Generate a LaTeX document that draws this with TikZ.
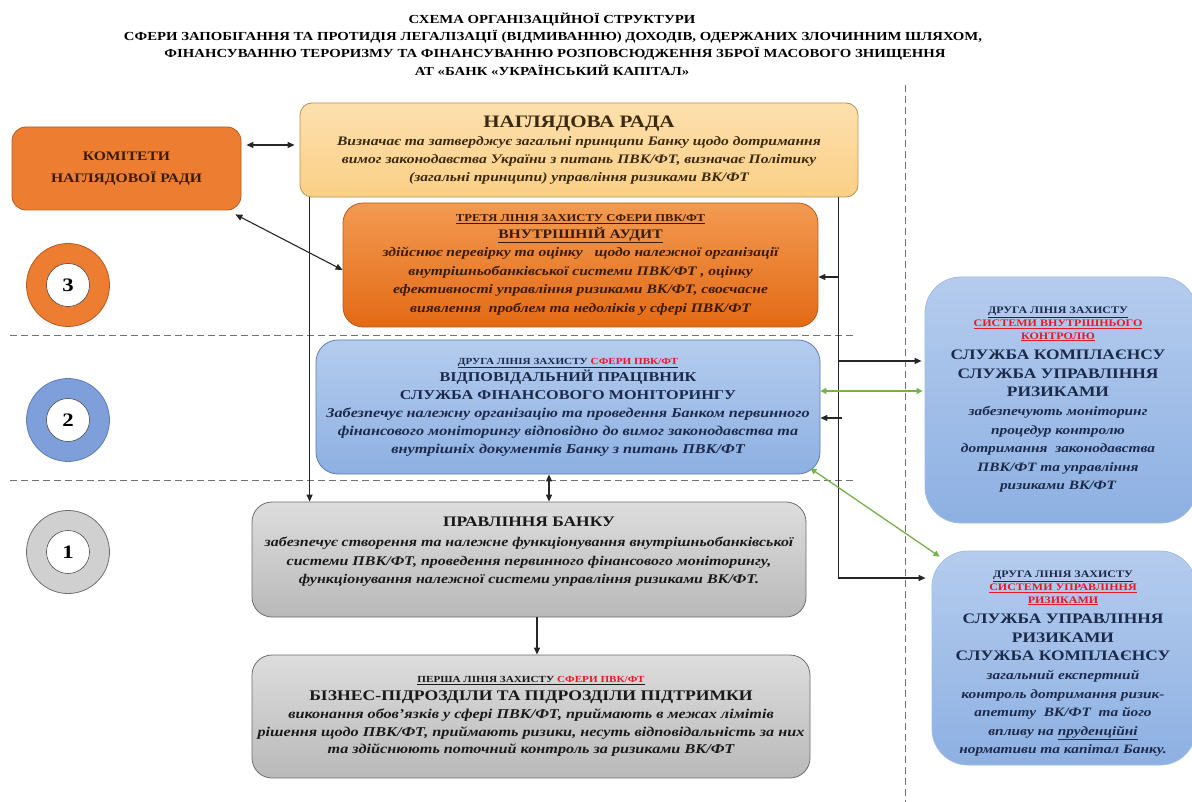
\documentclass[tikz,border=0pt]{standalone}
\usepackage{fontspec}
\setmainfont{Liberation Serif}[FakeStretch=1.2]
\usetikzlibrary{arrows.meta,calc}
\definecolor{radaF}{HTML}{FBCF86}
\definecolor{radaT}{HTML}{FDE0AE}
\definecolor{radaD}{HTML}{B8924E}
\definecolor{orF}{HTML}{ED7D31}
\definecolor{orD}{HTML}{B85A1C}
\definecolor{orT}{HTML}{F29A52}
\definecolor{orB}{HTML}{E36A14}
\definecolor{blT}{HTML}{B5CCEE}
\definecolor{blB}{HTML}{8DB0E2}
\definecolor{blD}{HTML}{5D7EAE}
\definecolor{grT}{HTML}{DDDDDD}
\definecolor{grB}{HTML}{B9B9B9}
\definecolor{grD}{HTML}{6E6E6E}
\definecolor{txtO}{HTML}{3A1B06}
\definecolor{txtR}{HTML}{3A2A10}
\definecolor{txtB}{HTML}{1B2A4A}
\definecolor{grn}{HTML}{78B04A}
\definecolor{redT}{HTML}{E8182A}
\definecolor{c2}{HTML}{7F9FDB}
\definecolor{c1}{HTML}{D0D0D0}
\begin{document}
\begin{tikzpicture}[x=1pt,y=-1pt,
  box/.style={draw, rounded corners=#1, align=center, line width=0.8pt, inner sep=0pt},
  arr/.style={line width=1.1pt, draw=black!85, -{Triangle[length=7pt,width=6pt]}},
  darr/.style={line width=1.1pt, draw=black!85, {Triangle[length=7pt,width=6pt]}-{Triangle[length=7pt,width=6pt]}},
  gline/.style={line width=1.3pt, draw=grn, {Triangle[length=6pt,width=6pt]}-{Triangle[length=6pt,width=6pt]}},
  sep/.style={dashed, draw=black!55, line width=0.9pt, dash pattern=on 7pt off 4pt},
  ring/.style={circle, draw=#1, line width=0.8pt, minimum size=83pt, inner sep=0pt},
  hole/.style={circle, draw=black!70, fill=white, line width=0.6pt, minimum size=43pt, inner sep=0pt, font=\fontsize{19}{22}\selectfont\bfseries},
  ttl/.style={font=\fontsize{12.3}{14}\selectfont\bfseries, inner sep=0pt},
  rtxt/.style={align=center, inner sep=0pt, text=txtB}
]
\useasboundingbox (0,0) rectangle (1192,802);
\fill[white] (0,0) rectangle (1192,802);
\clip (0,0) rectangle (1192,802);

% title
\node[ttl] (t1) at (552,20) {СХЕМА ОРГАНІЗАЦІЙНОЇ СТРУКТУРИ};
\node[ttl] (t2) at (553,37) {СФЕРИ  ЗАПОБІГАННЯ ТА ПРОТИДІЯ ЛЕГАЛІЗАЦІЇ (ВІДМИВАННЮ) ДОХОДІВ, ОДЕРЖАНИХ ЗЛОЧИННИМ ШЛЯХОМ,};
\node[ttl] (t3) at (555,54) {ФІНАНСУВАННЮ ТЕРОРИЗМУ ТА ФІНАНСУВАННЮ РОЗПОВСЮДЖЕННЯ ЗБРОЇ МАСОВОГО ЗНИЩЕННЯ};
\node[ttl] (t4) at (552,70) {АТ «БАНК «УКРАЇНСЬКИЙ КАПІТАЛ»};

% separators
\draw[sep] (10,335) -- (855,335);
\draw[sep] (10,480) -- (855,480);
\draw[sep] (905,85) -- (905,802);

% circles
\node[ring=orD, fill=orF] (c3o) at (68,285) {};
\node[hole] (c3) at (c3o.center) {3};
\node[ring=blD, fill=c2] (c2o) at (68,420) {};
\node[hole] (c2) at (c2o.center) {2};
\node[ring=grD, fill=c1] (c1o) at (68,552) {};
\node[hole] (c1) at (c1o.center) {1};

% boxes
\node[box=14pt, draw=orD, fill=orF, text=txtO, minimum width=229pt, minimum height=83pt,
      font=\fontsize{13}{22}\selectfont\bfseries] (kom) at (126.5,168.5)
  {КОМІТЕТИ\\НАГЛЯДОВОЇ РАДИ};

\node[box=12pt, draw=radaD, top color=radaT, bottom color=radaF, text=txtR, minimum width=558pt, minimum height=94pt,
      font=\fontsize{13}{18}\selectfont\bfseries\itshape] (rada) at (579,150)
  {{\upshape\fontsize{17.5}{18}\selectfont НАГЛЯДОВА РАДА}\\
   Визначає та затверджує загальні принципи Банку щодо дотримання\\
   вимог законодавства України з питань ПВК/ФТ, визначає Політику\\
   (загальні принципи) управління  ризиками ВК/ФТ};

\node[box=20pt, draw=orD, top color=orT, bottom color=orB, text=txtO, minimum width=475pt, minimum height=124pt,
      font=\fontsize{13}{18.5}\selectfont\bfseries\itshape] (tret) at (580.5,265)
  {{\upshape\fontsize{10.5}{12}\selectfont\underline{ТРЕТЯ ЛІНІЯ ЗАХИСТУ СФЕРИ ПВК/ФТ}}\\[-2pt]
   {\upshape\fontsize{13}{15}\selectfont\underline{ВНУТРІШНІЙ АУДИТ}}\\
   здійснює перевірку та оцінку \ \ щодо належної організації\\
   внутрішньобанківської системи ПВК/ФТ , оцінку\\
   ефективності управління ризиками ВК/ФТ, своєчасне\\
   виявлення \ проблем та недоліків у сфері ПВК/ФТ};

\node[box=22pt, draw=blD, top color=blT, bottom color=blB, text=txtB, minimum width=504pt, minimum height=134pt,
      font=\fontsize{13.5}{18}\selectfont\bfseries\itshape] (druga) at (568,407)
  {{\upshape\fontsize{9.3}{12}\selectfont\underline{ДРУГА ЛІНІЯ ЗАХИСТУ \textcolor{redT}{СФЕРИ ПВК/ФТ}}}\\[-1pt]
   {\upshape\fontsize{13.5}{17}\selectfont ВІДПОВІДАЛЬНИЙ ПРАЦІВНИК}\\
   {\upshape\fontsize{13.5}{17}\selectfont СЛУЖБА ФІНАНСОВОГО МОНІТОРИНГУ}\\
   Забезпечує належну організацію та проведення Банком первинного\\
   фінансового моніторингу відповідно до вимог законодавства та\\
   внутрішніх документів Банку з питань ПВК/ФТ};

\node[box=20pt, draw=grD, top color=grT, bottom color=grB, text=black!90, minimum width=554pt, minimum height=115pt,
      font=\fontsize{13.3}{18.5}\selectfont\bfseries\itshape] (prav) at (529,559.5)
  {{\upshape\fontsize{14.5}{17}\selectfont ПРАВЛІННЯ БАНКУ}\\[2pt]
   забезпечує створення та належне функціонування внутрішньобанківської\\
   системи ПВК/ФТ, проведення первинного фінансового моніторингу,\\
   функціонування належної системи управління ризиками ВК/ФТ.\\[0pt]\mbox{}};

\node[box=20pt, draw=grD, top color=grT, bottom color=grB, text=black!90, minimum width=558pt, minimum height=123pt,
      font=\fontsize{13.5}{17.5}\selectfont\bfseries\itshape] (persha) at (531,716.5)
  {{\upshape\fontsize{9.3}{12}\selectfont\underline{ПЕРША ЛІНІЯ ЗАХИСТУ \textcolor{redT}{СФЕРИ ПВК/ФТ}}}\\
   {\upshape\fontsize{14.7}{17}\selectfont БІЗНЕС-ПІДРОЗДІЛИ ТА ПІДРОЗДІЛИ ПІДТРИМКИ}\\[1pt]
   виконання обов’язків у сфері ПВК/ФТ, приймають в межах лімітів\\
   рішення щодо ПВК/ФТ, приймають ризики, несуть відповідальність за них\\
   та здійснюють поточний контроль за ризиками ВК/ФТ};

\node[box=36pt, draw=blT!80!blD, top color=blT, bottom color=blB, minimum width=272pt, minimum height=246pt] (trb) at (1061,400) {};
\node[rtxt, font=\fontsize{12.8}{18.6}\selectfont\bfseries\itshape] (trbt) at (1058,400)
  {{\upshape\fontsize{10}{12}\selectfont\underline{ДРУГА ЛІНІЯ ЗАХИСТУ}}\\[-6pt]
   {\upshape\fontsize{10}{12}\selectfont\textcolor{redT}{\underline{СИСТЕМИ ВНУТРІШНЬОГО}}}\\[-6pt]
   {\upshape\fontsize{10}{12}\selectfont\textcolor{redT}{\underline{КОНТРОЛЮ}}}\\[2pt]
   {\upshape\fontsize{14.5}{16}\selectfont СЛУЖБА КОМПЛАЄНСУ}\\
   {\upshape\fontsize{14.5}{16}\selectfont СЛУЖБА УПРАВЛІННЯ}\\
   {\upshape\fontsize{14.5}{16}\selectfont РИЗИКАМИ}\\
   забезпечують моніторинг\\
   процедур контролю\\
   дотримання \ законодавства\\
   ПВК/ФТ та управління\\
   ризиками ВК/ФТ};

\node[box=36pt, draw=blT!80!blD, top color=blT, bottom color=blB, minimum width=264pt, minimum height=214pt] (br) at (1064,658) {};
\node[rtxt, font=\fontsize{12.8}{18.6}\selectfont\bfseries\itshape] (brt) at (1063,664)
  {{\upshape\fontsize{10}{12}\selectfont\underline{ДРУГА ЛІНІЯ ЗАХИСТУ}}\\[-6pt]
   {\upshape\fontsize{10}{12}\selectfont\textcolor{redT}{\underline{СИСТЕМИ УПРАВЛІННЯ}}}\\[-6pt]
   {\upshape\fontsize{10}{12}\selectfont\textcolor{redT}{\underline{РИЗИКАМИ}}}\\[2pt]
   {\upshape\fontsize{14.5}{16}\selectfont СЛУЖБА УПРАВЛІННЯ}\\
   {\upshape\fontsize{14.5}{16}\selectfont РИЗИКАМИ}\\
   {\upshape\fontsize{14.5}{16}\selectfont СЛУЖБА КОМПЛАЄНСУ}\\
   загальний експертний\\
   контроль дотримання ризик-\\
   апетиту \ ВК/ФТ \ та його\\
   впливу на \underline{пруденційні}\\
   нормативи та капітал Банку.};

% connectors
\draw[darr, shorten <=5pt, shorten >=5pt] (kom.east |- 0,145) -- (rada.west |- 0,145);
\draw[darr] ($(kom.south east)+(-6,4)$) -- (tret.west |- 0,270);

\coordinate (lt) at ($(rada.south west)+(10,0)$);
\draw[arr] (lt) -- (lt |- prav.north);

\coordinate (rt) at ($(rada.south east)+(-20,0)$);
\coordinate (rb) at (rt |- 0,578);
\draw[arr] (rt) -- (rb) -- ($(br.west |- rb)+(-6,0)$);
\draw[arr] (rt |- 0,277) -- (tret.east |- 0,277);
\draw[arr] (rt |- 0,361) -- ($(trb.west |- 0,361)+(-3,0)$);
\draw[arr] ($(rt |- 0,418)+(4,0)$) -- (druga.east |- 0,418);
\draw[gline] (druga.east |- 0,391) -- ($(trb.west |- 0,391)+(-2,0)$);
\draw[gline] ($(druga.south east)+(-10,-6)$) -- ($(br.north west)+(8,6)$);

\coordinate (dv) at ($(druga.south)+(-19,0)$);
\draw[darr] (dv) -- (dv |- prav.north);
\draw[arr] ($(prav.south)+(8,0)$) -- ($(prav.south |- persha.north)+(8,0)$);
\end{tikzpicture}
\end{document}
